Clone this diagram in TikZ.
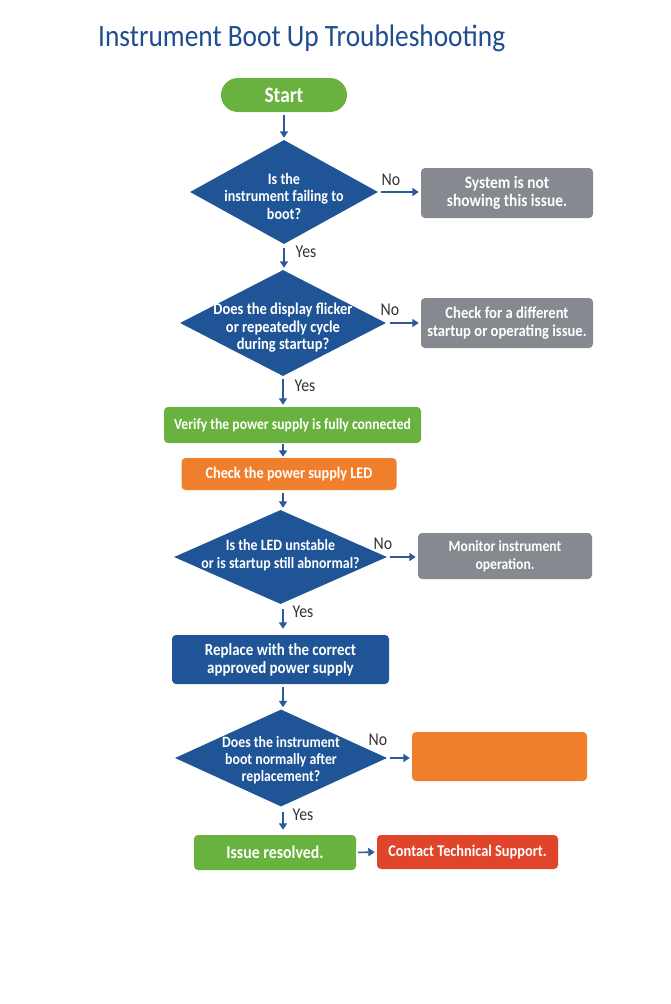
\documentclass[tikz,border=0pt]{standalone}
\usepackage{fontspec}
\setmainfont{Carlito}[FakeStretch=0.88]
\usetikzlibrary{shapes.geometric,arrows.meta}
\definecolor{titleblue}{HTML}{1F4E8F}
\definecolor{dblue}{HTML}{1F5596}
\definecolor{arrblue}{HTML}{2A5A98}
\definecolor{fgreen}{HTML}{6AB23F}
\definecolor{forange}{HTML}{F07F2D}
\definecolor{fgray}{HTML}{868A90}
\definecolor{fred}{HTML}{E0452B}
\definecolor{lbl}{HTML}{333333}
\newcommand{\fsz}[1]{\fontsize{#1}{18}\selectfont\bfseries}
\tikzset{
  box/.style={rectangle, rounded corners=4pt, inner sep=0pt, align=center,
    text=white, font=\fsz{16.5}},
  dec/.style={diamond, fill=dblue, inner sep=0pt},
  dectext/.style={text=white, align=center, font=\fontsize{16}{17.5}\selectfont\bfseries},
  arr/.style={draw=arrblue, line width=1.6pt, -{Triangle[length=6.5pt,width=8pt]},
    shorten <=3pt, shorten >=2pt},
  yn/.style={text=lbl, font=\fontsize{18}{18}\selectfont, inner sep=0pt}
}
\begin{document}
\begin{tikzpicture}[x=1pt,y=-1pt]
\useasboundingbox[fill=white] (0,0) rectangle (670,1004);
\coordinate (spine) at (283,0);
% title
\node[text=titleblue, inner sep=0pt, anchor=base west] (title) at (98,46)
  {\resizebox{407pt}{!}{\fontsize{30}{30}\selectfont Instrument Boot Up Troubleshooting}};
% start
\node[box, fill=fgreen, rounded corners=17pt, minimum width=126pt, minimum height=34pt,
  font=\fsz{22}] (start) at (284,95) {Start};
% decision 1
\node[dec, minimum width=188pt, minimum height=104pt,
  label={[dectext, yshift=-4pt]center:Is the\\instrument failing to\\boot?}] (d1) at (284,192) {};
\node[box, fill=fgray, minimum width=172pt, minimum height=50pt,
  font=\fsz{17.5}] (g1) at (507,193) {System is not\\showing this issue.};
% decision 2
\node[dec, minimum width=206pt, minimum height=106pt,
  label={[dectext, yshift=-5pt, font=\fontsize{16.5}{17.5}\selectfont\bfseries]center:Does the display flicker\\or repeatedly cycle\\during startup?}] (d2) at (283,323) {};
\node[box, fill=fgray, minimum width=172pt, minimum height=50pt,
  font=\fsz{16.6}] (g2) at (507,323) {Check for a different\\startup or operating issue.};
% process boxes
\node[box, fill=fgreen, minimum width=257pt, minimum height=36pt, font=\fsz{15.5}] (v1) at (292.5,425) {Verify the power supply is fully connected};
\node[box, fill=forange, minimum width=215pt, minimum height=32pt, font=\fsz{16.2}] (o1) at (289,474) {Check the power supply LED};
% decision 3
\node[dec, minimum width=213pt, minimum height=94pt,
  label={[dectext, yshift=2pt, font=\fontsize{15.8}{18}\selectfont\bfseries]center:Is the LED unstable\\or is startup still abnormal?}] (d3) at (280.5,557) {};
\node[box, fill=fgray, minimum width=174pt, minimum height=46pt, font=\fsz{15.5}] (g3) at (505,556) {Monitor instrument\\operation.};
% replace
\node[box, fill=dblue, minimum width=217pt, minimum height=49pt,
  font=\fsz{17}] (b1) at (280.5,659.5) {Replace with the correct\\approved power supply};
% decision 4
\node[dec, minimum width=212pt, minimum height=97pt,
  label={[dectext, yshift=-2pt, font=\fontsize{15.7}{17}\selectfont\bfseries]center:Does the instrument\\boot normally after\\replacement?}] (d4) at (281,758) {};
\node[box, fill=forange, minimum width=175pt, minimum height=49pt] (o2) at (499.5,756.5) {};
% bottom row
\node[box, fill=fgreen, minimum width=162pt, minimum height=35pt,
  font=\fsz{18}] (r1) at (275,852.5) {Issue resolved.};
\node[box, fill=fred, minimum width=181pt, minimum height=34pt, font=\fsz{16.3}] (r2) at (467.5,852) {Contact Technical Support.};
% labels
\node[yn] (no1) at (391,180) {No};
\node[yn] (no2) at (390,310) {No};
\node[yn] (no3) at (383,544) {No};
\node[yn] (no4) at (378,740) {No};
\node[yn] (yes1) at (306,252) {Yes};
\node[yn] (yes2) at (305,386) {Yes};
\node[yn] (yes3) at (303,612) {Yes};
\node[yn] (yes4) at (303,815) {Yes};
% arrows
\draw[arr] (start.south) -- (start.south |- d1.north);
\draw[arr, shorten <=4pt] (d1.south) -- (d1.south |- d2.north);
\draw[arr, shorten <=3pt] (spine |- d2.south) -- (spine |- v1.north);
\draw[arr, shorten <=1pt, shorten >=1pt] (spine |- v1.south) -- (spine |- o1.north);
\draw[arr] (spine |- o1.south) -- (spine |- d3.north);
\draw[arr, shorten <=5pt, shorten >=6pt] (spine |- d3.south) -- (spine |- b1.north);
\draw[arr] (spine |- b1.south) -- (spine |- d4.north);
\draw[arr, shorten <=5pt, shorten >=5pt] (spine |- d4.south) -- (spine |- r1.north);
\draw[arr] (d1.east) -- (g1.west |- d1.east);
\draw[arr, shorten <=4pt] (d2.east) -- (g2.west |- d2.east);
\draw[arr] (d3.east) -- (g3.west |- d3.east);
\draw[arr] (d4.east) -- (o2.west |- d4.east);
\draw[arr, shorten <=2pt] (r1.east) -- (r2.west);
\end{tikzpicture}
\end{document}
